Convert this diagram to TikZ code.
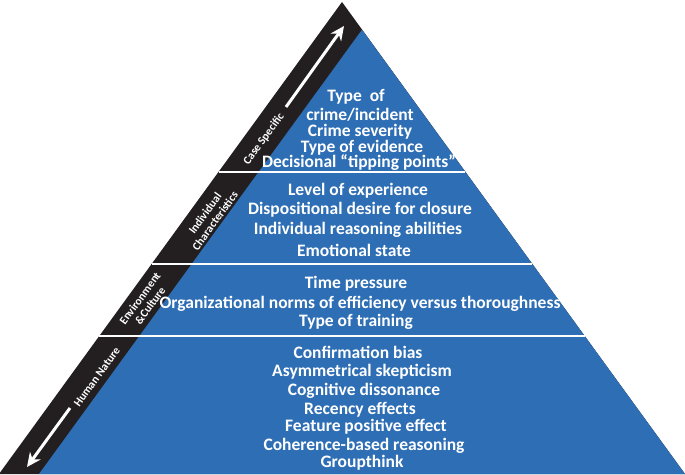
\documentclass[tikz,border=0pt]{standalone}
\usepackage{fontspec}
\setmainfont{Carlito}
\usetikzlibrary{arrows.meta,calc}
\definecolor{pyrblue}{RGB}{46,110,180}
\definecolor{bandblack}{RGB}{35,31,32}

\begin{document}
\begin{tikzpicture}[x=1pt, y=-1pt,
  itemtext/.style={text=white, font=\bfseries\fontsize{17.5}{19}\selectfont, inner sep=0pt},
  bandtext/.style={text=white, font=\bfseries\fontsize{11.5}{12.5}\selectfont, rotate=54, align=center, inner sep=0pt},
  divider/.style={white, line width=2pt},
  bandarrow/.style={white, line width=3pt, -{Stealth[length=14pt, width=13pt]}}]
\useasboundingbox[fill=white] (0,0) rectangle (685,474);
% pyramid corners
\coordinate (apex) at (342,2);
\coordinate (bl) at (-1,474);
\coordinate (br) at (685,474);
\coordinate (blueapex) at (362,29.7);
\coordinate (bluebl) at (39,474);
\fill[bandblack] (apex) -- (bl) -- (br) -- cycle;
\fill[pyrblue] (blueapex) -- (bluebl) -- (br) -- cycle;
% level dividers
\draw[divider] ($(apex)!0.360!(bl)$) -- ($(apex)!0.360!(br)$);
\draw[divider] ($(apex)!0.555!(bl)$) -- ($(apex)!0.555!(br)$);
\draw[divider] ($(apex)!0.708!(bl)$) -- ($(apex)!0.708!(br)$);
% arrows in the band
\coordinate (upTail) at (286,107);
\coordinate (upTip) at (344,26);
\draw[bandarrow] (upTail) -- (upTip);
\coordinate (downTail) at (70,408);
\coordinate (downTip) at (27,467);
\draw[bandarrow] (downTail) -- (downTip);
% band labels
\node[bandtext] at (264,139) (caseLbl) {Case Specific};
\node[bandtext] at (210,217) (indivLbl) {Individual\\Characteristics};
\node[bandtext] at (145,302) (envLbl) {Environment\\\&Culture};
\node[bandtext] at (97,377) (humanLbl) {Human Nature};
% case specific
\node[itemtext] at (356,97) (cs1) {Type\ \ of};
\node[itemtext] at (360,115) (cs2) {crime/incident};
\node[itemtext] at (360,132) (cs3) {Crime severity};
\node[itemtext] at (362,148) (cs4) {Type of evidence};
\node[itemtext] at (359,163) (cs5) {Decisional ``tipping points''};
% individual characteristics
\node[itemtext] at (358,191) (ic1) {Level of experience};
\node[itemtext] at (360,210) (ic2) {Dispositional desire for closure};
\node[itemtext] at (358,230) (ic3) {Individual reasoning abilities};
\node[itemtext] at (354,250) (ic4) {Emotional state};
% environment and culture
\node[itemtext] at (356,284) (ec1) {Time pressure};
\node[itemtext] at (360,304) (ec2) {Organizational norms of efficiency versus thoroughness};
\node[itemtext] at (356,322) (ec3) {Type of training};
% human nature
\node[itemtext] at (358,352) (hn1) {Confirmation bias};
\node[itemtext] at (362,372) (hn2) {Asymmetrical skepticism};
\node[itemtext] at (364,391) (hn3) {Cognitive dissonance};
\node[itemtext] at (360,410) (hn4) {Recency effects};
\node[itemtext] at (366,427) (hn5) {Feature positive effect};
\node[itemtext] at (364,446) (hn6) {Coherence-based reasoning};
\node[itemtext] at (362,463) (hn7) {Groupthink};
\end{tikzpicture}
\end{document}
